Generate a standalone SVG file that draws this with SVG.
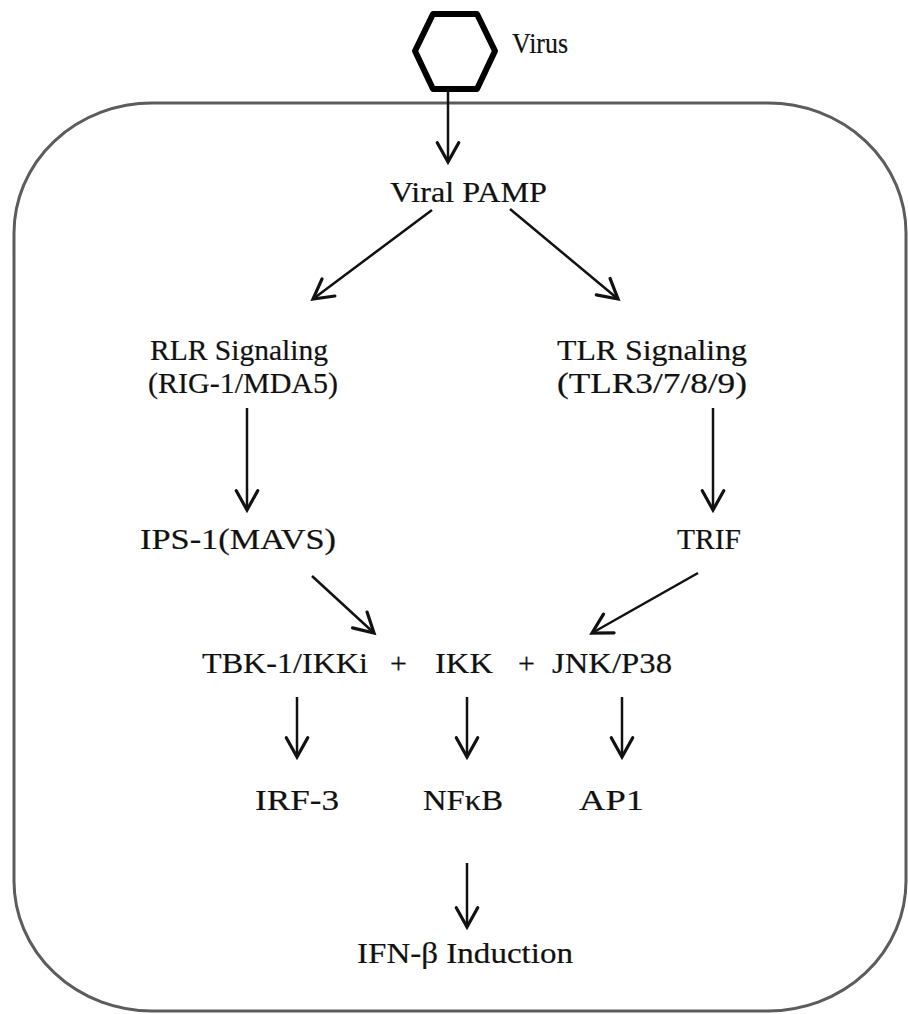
<svg xmlns="http://www.w3.org/2000/svg" width="908" height="1014" viewBox="0 0 908 1014">
<defs>
<style>
.t{font-family:"Liberation Serif","Times New Roman",serif;font-size:30px;fill:#111;stroke:#111;stroke-width:0.2}
.c{stroke:#111;stroke-width:2.5;fill:none}
.cell{fill:none;stroke:#5c5c5c;stroke-width:3}
</style>
<marker id="ah" markerUnits="userSpaceOnUse" markerWidth="30" markerHeight="30" refX="0" refY="0" viewBox="-22 -14 26 28" orient="auto">
<path d="M-18,-10 L0,0 L-18,10" fill="none" stroke="#111" stroke-width="3" stroke-linecap="round" stroke-linejoin="miter"/>
</marker>
</defs>
<rect width="908" height="1014" fill="#fff"/>
<g id="cell"><rect class="cell" x="14" y="103" width="892" height="908" rx="138" ry="130"/></g>
<g id="virus">
<polygon points="433,14 477,14 495,51 477,89 433,89 415,51" fill="none" stroke="#000" stroke-width="6" stroke-linejoin="round"/>
<text class="t" x="512" y="53" textLength="56" lengthAdjust="spacingAndGlyphs">Virus</text>
</g>
<g id="viral-pamp"><text class="t" x="390" y="202" textLength="157" lengthAdjust="spacingAndGlyphs">Viral PAMP</text></g>
<g id="rlr"><text class="t" x="150" y="360" textLength="178" lengthAdjust="spacingAndGlyphs">RLR Signaling</text><text class="t" x="148" y="393" textLength="190" lengthAdjust="spacingAndGlyphs">(RIG-1/MDA5)</text></g>
<g id="tlr"><text class="t" x="557" y="360" textLength="190" lengthAdjust="spacingAndGlyphs">TLR Signaling</text><text class="t" x="557" y="393" textLength="190" lengthAdjust="spacingAndGlyphs">(TLR3/7/8/9)</text></g>
<g id="ips1"><text class="t" x="140" y="549" textLength="196" lengthAdjust="spacingAndGlyphs">IPS-1(MAVS)</text></g>
<g id="trif"><text class="t" x="677" y="549" textLength="64" lengthAdjust="spacingAndGlyphs">TRIF</text></g>
<g id="tbk1"><text class="t" x="202" y="673" textLength="166" lengthAdjust="spacingAndGlyphs">TBK-1/IKKi</text></g>
<g id="plus"><text class="t" x="390" y="673">+</text><text class="t" x="518" y="673">+</text></g>
<g id="ikk"><text class="t" x="435" y="673" textLength="58" lengthAdjust="spacingAndGlyphs">IKK</text></g>
<g id="jnk"><text class="t" x="552" y="673" textLength="120" lengthAdjust="spacingAndGlyphs">JNK/P38</text></g>
<g id="irf3"><text class="t" x="255" y="810" textLength="84" lengthAdjust="spacingAndGlyphs">IRF-3</text></g>
<g id="nfkb"><text class="t" x="423" y="810" textLength="80" lengthAdjust="spacingAndGlyphs">NFκB</text></g>
<g id="ap1"><text class="t" x="579" y="810" textLength="65" lengthAdjust="spacingAndGlyphs">AP1</text></g>
<g id="ifnb"><text class="t" x="357" y="963" textLength="216" lengthAdjust="spacingAndGlyphs">IFN-β Induction</text></g>
<g id="connectors" class="c">
<line class="c" x1="448" y1="89" x2="448" y2="162" marker-end="url(#ah)"/>
<line class="c" x1="432" y1="210" x2="313" y2="299" marker-end="url(#ah)"/>
<line class="c" x1="510" y1="209" x2="618" y2="299" marker-end="url(#ah)"/>
<line class="c" x1="247" y1="408" x2="247" y2="510" marker-end="url(#ah)"/>
<line class="c" x1="713" y1="408" x2="713" y2="510" marker-end="url(#ah)"/>
<line class="c" x1="312" y1="576" x2="374" y2="633" marker-end="url(#ah)"/>
<line class="c" x1="698" y1="573" x2="592" y2="633" marker-end="url(#ah)"/>
<line class="c" x1="297" y1="697" x2="297" y2="757" marker-end="url(#ah)"/>
<line class="c" x1="467" y1="697" x2="467" y2="757" marker-end="url(#ah)"/>
<line class="c" x1="622" y1="697" x2="622" y2="757" marker-end="url(#ah)"/>
<line class="c" x1="467" y1="863" x2="467" y2="927" marker-end="url(#ah)"/>
</g>
</svg>
